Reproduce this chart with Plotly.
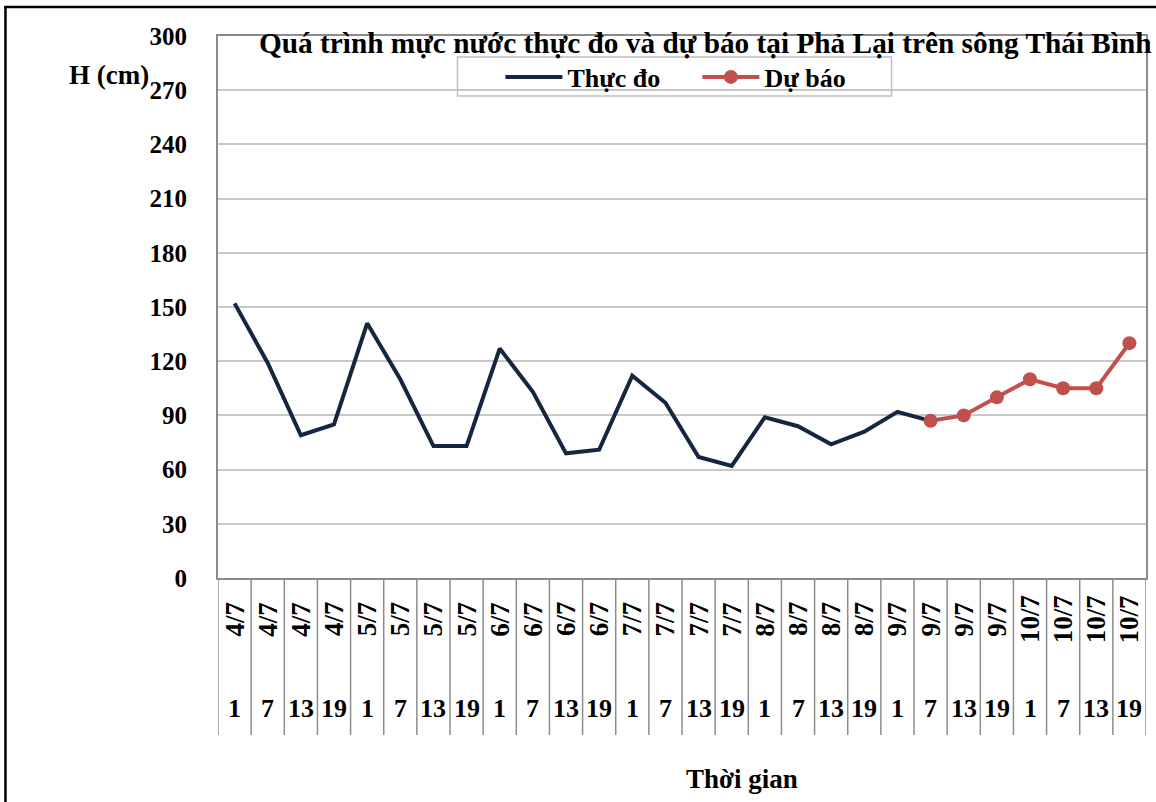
import plotly.graph_objects as go

# ---- data ----
dates = ["4/7", "4/7", "4/7", "4/7", "5/7", "5/7", "5/7", "5/7",
         "6/7", "6/7", "6/7", "6/7", "7/7", "7/7", "7/7", "7/7",
         "8/7", "8/7", "8/7", "8/7", "9/7", "9/7", "9/7", "9/7",
         "10/7", "10/7", "10/7", "10/7"]
hours = ["1", "7", "13", "19", "1", "7", "13", "19",
         "1", "7", "13", "19", "1", "7", "13", "19",
         "1", "7", "13", "19", "1", "7", "13", "19",
         "1", "7", "13", "19"]
thuc_do = [152, 119, 79, 85, 141, 110, 73, 73, 127, 103, 69, 71, 112, 97,
           67, 62, 89, 84, 74, 81, 92, 87]
du_bao = [87, 90, 100, 110, 105, 105, 130]
du_bao_start = 21  # index of first forecast time step (9/7 7h)

categories = [f"{d} {h}h" for d, h in zip(dates, hours)]
y_ticks = [0, 30, 60, 90, 120, 150, 180, 210, 240, 270, 300]

title_text = "Quá trình mực nước thực đo và dự báo tại Phả Lại trên sông Thái Bình"
y_title = "H (cm)"
x_title = "Thời gian"

# ---- layout geometry (pixels) ----
W, H = 1156, 802
L, R, T, B = 218, 1148, 36, 578
pw, ph = R - L, B - T


def px(xp):
    return (xp - L) / pw


def py(yp):
    return (B - yp) / ph


FONT = "Liberation Serif"
NAVY = "#14273f"
RED = "#c0504d"
GRID = "#c8c8c8"
AXIS = "#8c8c8c"

fig = go.Figure()
fig.add_trace(go.Scatter(
    x=categories[:len(thuc_do)], y=thuc_do, mode="lines", name="Thực đo",
    line=dict(color=NAVY, width=4), cliponaxis=False))
fig.add_trace(go.Scatter(
    x=categories[du_bao_start:du_bao_start + len(du_bao)], y=du_bao,
    mode="lines+markers", name="Dự báo",
    line=dict(color=RED, width=4), marker=dict(color=RED, size=14),
    cliponaxis=False))

shapes = []
# category separators below the axis
for k in range(len(categories) + 1):
    shapes.append(dict(type="line", xref="x", yref="paper",
                       x0=k - 0.5, x1=k - 0.5, y0=0, y1=py(735),
                       line=dict(color=AXIS, width=1.5)))
# outer chart border (left and top visible)
shapes.append(dict(type="line", xref="paper", yref="paper",
                   x0=px(5), x1=px(5), y0=py(6), y1=py(830),
                   line=dict(color="black", width=2.5)))
shapes.append(dict(type="line", xref="paper", yref="paper",
                   x0=px(4), x1=px(1170), y0=py(7), y1=py(7),
                   line=dict(color="black", width=2.5)))
# legend box
shapes.append(dict(type="rect", xref="paper", yref="paper",
                   x0=px(458), x1=px(893), y0=py(57), y1=py(96),
                   line=dict(color="#bfbfbf", width=1.5),
                   fillcolor="rgba(0,0,0,0)"))

annotations = []
for c, d, h in zip(categories, dates, hours):
    annotations.append(dict(x=c, y=py(619), xref="x", yref="paper",
                            text=d, textangle=-90, showarrow=False,
                            font=dict(family=FONT, size=27, color="black",
                                      weight="bold"),
                            xanchor="center", yanchor="middle"))
    annotations.append(dict(x=c, y=py(708), xref="x", yref="paper",
                            text=h, showarrow=False,
                            font=dict(family=FONT, size=26, color="black",
                                      weight="bold"),
                            xanchor="center", yanchor="middle"))
annotations.append(dict(x=px(743), y=py(779), xref="paper", yref="paper",
                        text=x_title, showarrow=False,
                        font=dict(family=FONT, size=27, color="black",
                                  weight="bold"),
                        xanchor="center", yanchor="middle"))
annotations.append(dict(x=px(151), y=py(75), xref="paper", yref="paper",
                        text=y_title, showarrow=False,
                        font=dict(family=FONT, size=27, color="black",
                                  weight="bold"),
                        xanchor="right", yanchor="middle"))
annotations.append(dict(x=px(257), y=py(43), xref="paper", yref="paper",
                        text=title_text, showarrow=False,
                        font=dict(family=FONT, size=29.3, color="black",
                                  weight="bold"),
                        xanchor="left", yanchor="middle"))

fig.update_layout(
    width=W, height=H,
    margin=dict(l=L, r=W - R, t=T, b=H - B, pad=0),
    paper_bgcolor="white", plot_bgcolor="white",
    showlegend=True,
    legend=dict(orientation="h", x=px(501), y=py(77), xanchor="left",
                yanchor="middle", bgcolor="rgba(0,0,0,0)", borderwidth=0,
                itemwidth=57, entrywidth=125, entrywidthmode="pixels",
                font=dict(family=FONT, size=26, color="black", weight="bold")),
    xaxis=dict(type="category", categoryorder="array",
               categoryarray=categories, range=[-0.5, len(categories) - 0.5],
               showticklabels=False, ticks="", showgrid=False,
               showline=True, linecolor=AXIS, linewidth=2, mirror=True,
               zeroline=False, fixedrange=True),
    yaxis=dict(range=[0, 300], tickvals=y_ticks, ticks="",
               ticklabelstandoff=24,
               tickfont=dict(family=FONT, size=25, color="black",
                             weight="bold"),
               showgrid=True, gridcolor=GRID, gridwidth=1.5,
               showline=True, linecolor=AXIS, linewidth=2, mirror=True,
               zeroline=False, fixedrange=True),
    shapes=shapes, annotations=annotations,
)

fig.write_html("out.html", config={"displayModeBar": False},
               post_script="document.body.style.margin='0px';")
